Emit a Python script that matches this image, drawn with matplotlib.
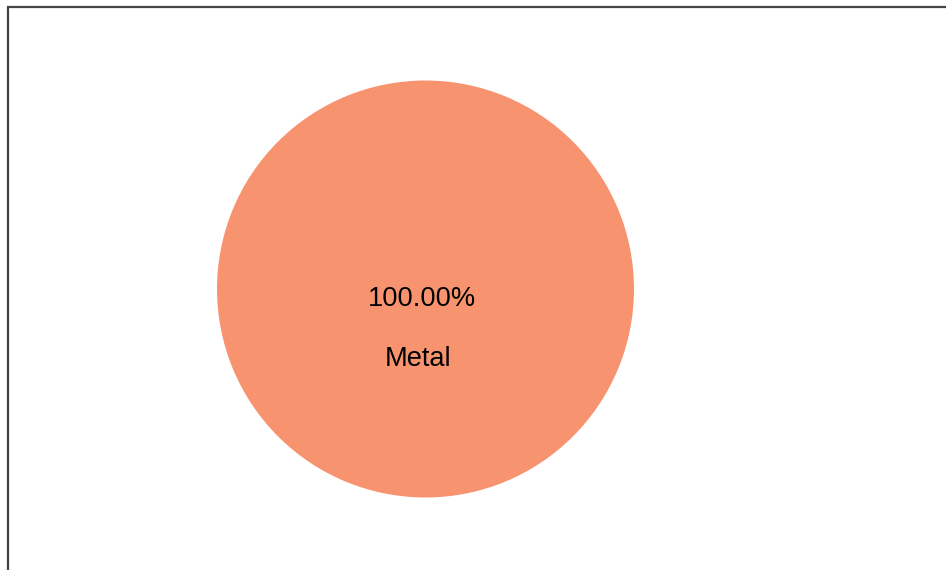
import matplotlib
matplotlib.use("Agg")
import matplotlib.pyplot as plt
from matplotlib.patches import Rectangle

# Data
categories = ["Metal"]
values = [100.0]
colors = ["#F8936F"]

plt.rcParams['font.family'] = ['Liberation Sans', 'DejaVu Sans']

W, H = 946, 570
fig = plt.figure(figsize=(W / 100, H / 100), dpi=100)
fig.patch.set_facecolor("white")

# Frame along the top and left edges
fig.patches.append(Rectangle((8 / W, -0.1), 1.2, 1.1 - 7 / H,
                             transform=fig.transFigure, fill=False,
                             edgecolor="#444444", linewidth=1.6))

cx, cy, r = 425.5, 289.0, 208.5
ax = fig.add_axes([(cx - r) / W, (H - cy - r) / H, 2 * r / W, 2 * r / H])
ax.set_xlim(-1, 1)
ax.set_ylim(-1, 1)
ax.set_aspect("equal")
ax.axis("off")

wedges, texts, autotexts = ax.pie(
    values, labels=categories, colors=colors, startangle=90, radius=1,
    autopct="%.2f%%", pctdistance=0.048, labeldistance=0.336,
    wedgeprops=dict(linewidth=0), textprops=dict(fontsize=19.6, color="black"),
)
for t in list(texts) + list(autotexts):
    t.set_horizontalalignment("center")
    t.set_verticalalignment("center")
# nudge the labels slightly left of the centre line
for t, dx in zip(autotexts, [-0.018]):
    x, y = t.get_position()
    t.set_position((x + dx, y))
for t, dx in zip(texts, [-0.034]):
    x, y = t.get_position()
    t.set_position((x + dx, y))
ax.set_xlim(-1, 1)
ax.set_ylim(-1, 1)

fig.savefig("out.png", dpi=100)
